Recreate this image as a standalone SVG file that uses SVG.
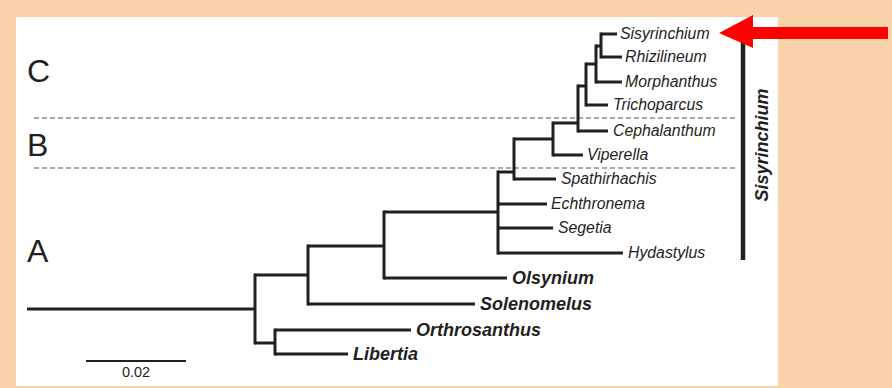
<svg xmlns="http://www.w3.org/2000/svg" width="892" height="388" viewBox="0 0 892 388">
<style>
.br{fill:none;stroke:#231f20;stroke-width:3}
.vt{fill:none;stroke:#231f20;stroke-width:3;stroke-linecap:square}
.tx{font-family:"Liberation Sans",Arial,sans-serif;font-style:italic;font-size:15.8px;fill:#231f20}
.bd{font-family:"Liberation Sans",Arial,sans-serif;font-style:italic;font-weight:bold;font-size:18px;fill:#231f20}
.zone{font-family:"Liberation Sans",Arial,sans-serif;font-size:32px;fill:#231f20}
.dash{stroke:#555;stroke-width:1;stroke-dasharray:5 3;fill:none}
</style>
<rect x="0" y="0" width="892" height="388" fill="#fad3aa"/>
<rect x="16" y="17" width="762" height="369" fill="#ffffff"/>
<g id="zones">
<path class="dash" d="M34,118 H735"/>
<path class="dash" d="M34,168 H735"/>
<text class="zone" x="27" y="82">C</text>
<text class="zone" x="27" y="156">B</text>
<text class="zone" x="27" y="262">A</text>
</g>
<g id="connectors">
<path class="br" d="M27,309 H255"/>
<path class="vt" d="M255,275 V343"/>
<path class="br" d="M255,275 H308 M255,343 H275"/>
<path class="vt" d="M275,330 V354"/>
<path class="vt" d="M308,246 V304"/>
<path class="br" d="M308,246 H384"/>
<path class="vt" d="M384,212 V278"/>
<path class="br" d="M384,212 H498"/>
<path class="vt" d="M498,172 V253"/>
<path class="br" d="M498,172 H514"/>
<path class="vt" d="M514,139 V179"/>
<path class="br" d="M514,139 H553"/>
<path class="vt" d="M553,123 V155"/>
<path class="br" d="M553,123 H578"/>
<path class="vt" d="M578,86 V131"/>
<path class="br" d="M578,86 H586"/>
<path class="vt" d="M586,64 V105"/>
<path class="br" d="M586,64 H596"/>
<path class="vt" d="M596,46 V82"/>
<path class="br" d="M596,46 H601"/>
<path class="vt" d="M601,34 V57"/>
</g>
<g id="Sisyrinchium"><path class="br" d="M601,34 H617"/><text class="tx" x="620" y="39">Sisyrinchium</text></g>
<g id="Rhizilineum"><path class="br" d="M601,57 H622"/><text class="tx" x="625" y="62">Rhizilineum</text></g>
<g id="Morphanthus"><path class="br" d="M596,82 H622"/><text class="tx" x="625" y="87">Morphanthus</text></g>
<g id="Trichoparcus"><path class="br" d="M586,105 H608"/><text class="tx" x="613" y="110">Trichoparcus</text></g>
<g id="Cephalanthum"><path class="br" d="M578,131 H608"/><text class="tx" x="613" y="136">Cephalanthum</text></g>
<g id="Viperella"><path class="br" d="M553,155 H583"/><text class="tx" x="587" y="160">Viperella</text></g>
<g id="Spathirhachis"><path class="br" d="M514,179 H556"/><text class="tx" x="561" y="184">Spathirhachis</text></g>
<g id="Echthronema"><path class="br" d="M498,204 H547"/><text class="tx" x="551" y="209">Echthronema</text></g>
<g id="Segetia"><path class="br" d="M498,228 H553"/><text class="tx" x="558" y="233">Segetia</text></g>
<g id="Hydastylus"><path class="br" d="M498,253 H623"/><text class="tx" x="628" y="258">Hydastylus</text></g>
<g id="Olsynium"><path class="br" d="M384,278 H507"/><text class="bd" x="512" y="284">Olsynium</text></g>
<g id="Solenomelus"><path class="br" d="M308,304 H475"/><text class="bd" x="480" y="310">Solenomelus</text></g>
<g id="Orthrosanthus"><path class="br" d="M275,330 H411"/><text class="bd" x="416" y="336">Orthrosanthus</text></g>
<g id="Libertia"><path class="br" d="M275,354 H348"/><text class="bd" x="353" y="360">Libertia</text></g>
<g id="genus-bar">
<path d="M743,40 V260" stroke="#231f20" stroke-width="4.5" fill="none"/>
<text class="bd" text-anchor="middle" transform="translate(768,145) rotate(-90)">Sisyrinchium</text>
</g>
<g id="scale">
<path d="M86,361 H186" stroke="#231f20" stroke-width="2" fill="none"/>
<text x="136" y="377" text-anchor="middle" font-family="Liberation Sans, Arial, sans-serif" font-size="14.5" fill="#231f20">0.02</text>
</g>
<g id="arrow">
<path d="M719,33 L753,15 L753,27 L888,27 L888,39 L753,39 L753,48 Z" fill="#ff0000"/>
</g>
</svg>
